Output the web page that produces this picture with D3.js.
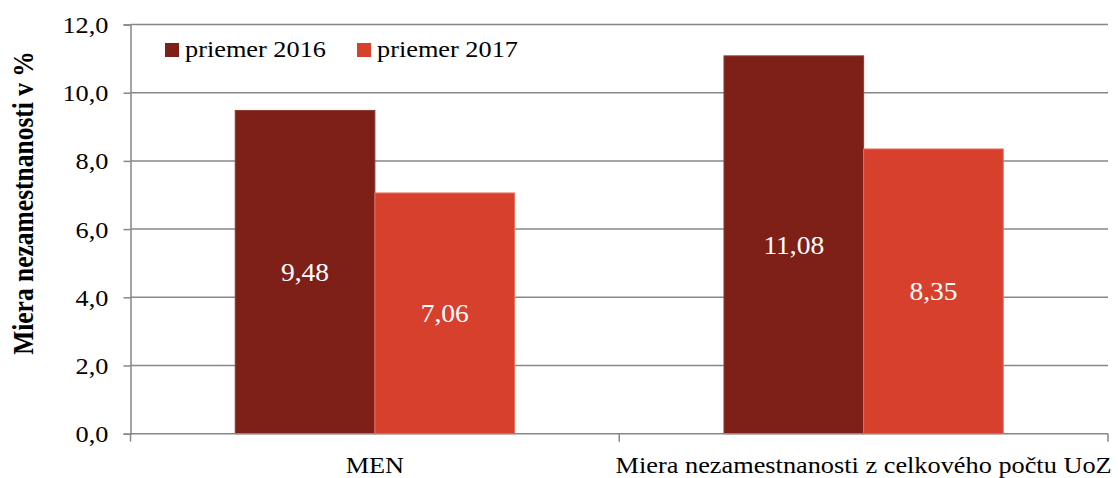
<!DOCTYPE html>
<html>
<head>
<meta charset="utf-8">
<script src="https://cdn.jsdelivr.net/npm/d3@7"></script>
<style>
  body { margin: 0; background: #fff; }
  svg { display: block; }
  text { font-family: "Liberation Serif", "Times New Roman", serif; }
</style>
</head>
<body>
<div class="chart"></div>
<script>
var categories = ['MEN', 'Miera nezamestnanosti z celkového počtu UoZ'];
var seriesNames = ['priemer 2016', 'priemer 2017'];
var values2016 = [9.48, 11.08];
var values2017 = [7.06, 8.35];
var yTicks = [0, 2, 4, 6, 8, 10, 12];

var colors = { 'priemer 2016': '#7E2018', 'priemer 2017': '#D8402E' };
var strokes = { 'priemer 2016': '#8E3A33', 'priemer 2017': '#E8705F' };
var stretch = 1.12;   // text in the picture is a bit wider than normal

var width = 1118, height = 478;
var svg = d3.select('.chart')
    .append('svg')
    .attr('width', width)
    .attr('height', height);

var plotLeft = 130.5, plotRight = 1108, plotTop = 24.5, plotBottom = 433.7;

var x = d3.scaleBand()
    .domain(categories)
    .range([plotLeft, plotRight]);
var xs = d3.scaleBand()
    .domain(seriesNames)
    .range([0, x.bandwidth()])
    .paddingInner(0)
    .paddingOuter(0.75);
var y = d3.scaleLinear()
    .domain([0, 12])
    .range([plotBottom, plotTop]);

var fmt = function(v, n) { return v.toFixed(n).replace('.', ','); };

// gridlines
svg.append('g')
  .selectAll('line')
  .data(yTicks.filter(function(d) { return d > 0; }))
  .enter().append('line')
    .attr('x1', plotLeft)
    .attr('x2', plotRight)
    .attr('y1', function(d) { return y(d); })
    .attr('y2', function(d) { return y(d); })
    .attr('stroke', '#878787')
    .attr('stroke-width', 1.5);

// bars
var data = [];
categories.forEach(function(c, i) {
  data.push({ cat: c, series: seriesNames[0], value: values2016[i] });
  data.push({ cat: c, series: seriesNames[1], value: values2017[i] });
});

svg.append('g')
  .selectAll('rect')
  .data(data)
  .enter().append('rect')
    .attr('x', function(d) { return x(d.cat) + xs(d.series); })
    .attr('y', function(d) { return y(d.value); })
    .attr('width', xs.bandwidth())
    .attr('height', function(d) { return y(0) - y(d.value); })
    .attr('fill', function(d) { return colors[d.series]; })
    .attr('stroke', function(d) { return strokes[d.series]; })
    .attr('stroke-width', 1);

// value labels
svg.append('g')
  .selectAll('text')
  .data(data)
  .enter().append('text')
    .attr('transform', function(d) {
      var cx = x(d.cat) + xs(d.series) + xs.bandwidth() / 2;
      var cy = (y(d.value) + y(0)) / 2;
      return 'translate(' + cx + ',' + cy + ') scale(1.1,1)';
    })
    .attr('text-anchor', 'middle')
    .attr('dy', '0.35em')
    .attr('font-size', 25)
    .attr('fill', '#fff')
    .text(function(d) { return fmt(d.value, 2); });

// y axis
var yAxis = d3.axisLeft(y)
    .tickValues(yTicks)
    .tickSize(7)
    .tickFormat(function(d) { return fmt(d, 1); });
var gy = svg.append('g')
    .attr('transform', 'translate(' + plotLeft + ',0)')
    .call(yAxis);
gy.select('.domain').attr('stroke', '#878787').attr('stroke-width', 1.5);
gy.selectAll('.tick line').attr('stroke', '#878787').attr('stroke-width', 1.5);
gy.selectAll('.tick text')
    .attr('x', null)
    .attr('dy', '0.34em')
    .attr('transform', 'translate(-22,0) scale(' + stretch + ',1)')
    .attr('font-size', 23.5)
    .attr('font-family', '"Liberation Serif", "Times New Roman", serif')
    .attr('fill', '#000');

// x axis: line with ticks at the category boundaries
var bounds = categories.map(function(c) { return x(c); }).concat([plotRight]);
svg.append('line')
    .attr('x1', plotLeft)
    .attr('x2', plotRight)
    .attr('y1', y(0))
    .attr('y2', y(0))
    .attr('stroke', '#878787')
    .attr('stroke-width', 1.5);
svg.append('g')
  .selectAll('line')
  .data(bounds)
  .enter().append('line')
    .attr('x1', function(d) { return d; })
    .attr('x2', function(d) { return d; })
    .attr('y1', y(0))
    .attr('y2', y(0) + 8)
    .attr('stroke', '#878787')
    .attr('stroke-width', 1.5);

svg.append('g')
  .selectAll('text')
  .data(categories)
  .enter().append('text')
    .attr('transform', function(d) {
      return 'translate(' + (x(d) + x.bandwidth() / 2) + ',473) scale(' + stretch + ',1)';
    })
    .attr('text-anchor', 'middle')
    .attr('font-size', 23.5)
    .text(function(d) { return d; });

// y axis title
svg.append('text')
    .attr('transform', 'translate(33,203) scale(' + stretch + ',1) rotate(-90)')
    .attr('text-anchor', 'middle')
    .attr('font-size', 25.5)
    .attr('font-weight', 'bold')
    .text('Miera nezamestnanosti v %');

// legend
var legend = svg.append('g')
  .selectAll('g')
  .data(seriesNames)
  .enter().append('g')
    .attr('transform', function(d, i) { return 'translate(' + (165 + i * 192) + ',0)'; });
legend.append('rect')
    .attr('x', 0)
    .attr('y', 43)
    .attr('width', 14)
    .attr('height', 14)
    .attr('fill', function(d) { return colors[d]; });
legend.append('text')
    .attr('transform', 'translate(20,57) scale(' + stretch + ',1)')
    .attr('font-size', 23.5)
    .text(function(d) { return d; });
</script>
</body>
</html>
